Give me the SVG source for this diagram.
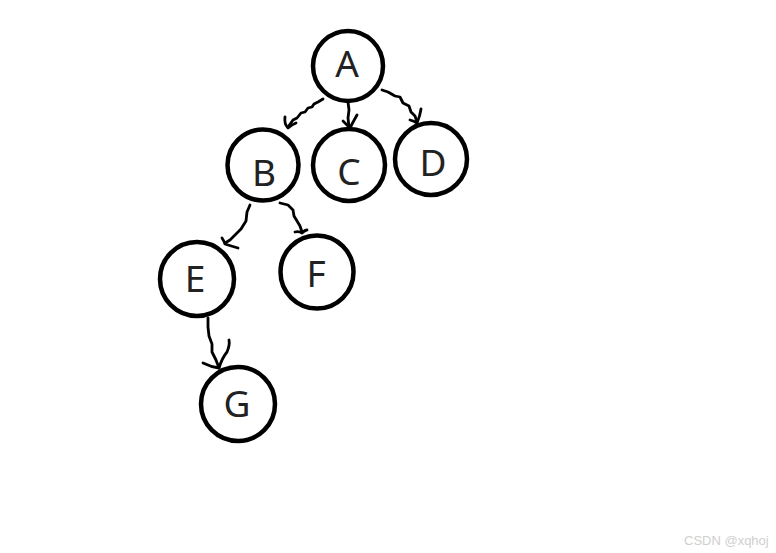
<svg xmlns="http://www.w3.org/2000/svg" width="776" height="553" viewBox="0 0 776 553">
<style>
.n circle{fill:#fff;stroke:#000;stroke-width:4.5}
.n text{font-family:"Noto Sans","Open Sans",sans-serif;font-size:37px;fill:#222;text-anchor:middle}
.e path{fill:none;stroke:#000;stroke-width:2.8;stroke-linecap:round;stroke-linejoin:round}
.wm{font-family:"Liberation Sans",Arial,sans-serif;font-size:13px;fill:#cfcfcf}
</style>
<rect width="776" height="553" fill="#fff"/>
<g id="edges" class="e">
<path d="M323,99 L318,102 L314,104 L312,107 L308,108 L305,112 L301,113 L297,118 L293,120 L288,127"/>
<path d="M285,117 Q284,124 288,128 Q291,125 296,123"/>
<path d="M348,102 L349,110 L348,118 L349,127"/>
<path d="M343,121 Q346,124 350,128 Q353,122 357,115"/>
<path d="M382,90 L388,92 L395,96 L400,97 L403,103 L409,106 L411,112 L415,116 L417,122"/>
<path d="M410,120 Q414,121 417,123 Q420,116 421,109"/>
<path d="M250,205 L247,212 L246,221 L241,229 L235,235 L230,240 L225,243"/>
<path d="M222,238 Q224,241 225,244 Q231,246 238,248"/>
<path d="M280,203 L288,205 L293,210 L294,216 L297,221 L300,226 L302,232"/>
<path d="M295,232 Q299,231 302,233 Q305,230 307,230"/>
<path d="M208,318 L208,327 L209,336 L212,344 L212,352 L216,360 L219,368"/>
<path d="M203,363 Q211,367 219,368 Q222,358 227,352 Q230,345 229,340"/>
</g>
<g id="A" class="n"><circle cx="348" cy="66" r="35"/><text x="347" y="77">A</text></g>
<g id="B" class="n"><circle cx="263" cy="165" r="35.5"/><text x="264" y="186">B</text></g>
<g id="C" class="n"><circle cx="349" cy="165" r="36"/><text x="349" y="185">C</text></g>
<g id="D" class="n"><circle cx="431" cy="159" r="36"/><text x="433" y="176">D</text></g>
<g id="E" class="n"><circle cx="197" cy="279" r="37"/><text x="195" y="292">E</text></g>
<g id="F" class="n"><circle cx="317" cy="272" r="36.5"/><text x="316" y="287">F</text></g>
<g id="G" class="n"><circle cx="238" cy="404" r="37"/><text x="237" y="417">G</text></g>
<text class="wm" x="684" y="545">CSDN @xqhoj</text>
</svg>
